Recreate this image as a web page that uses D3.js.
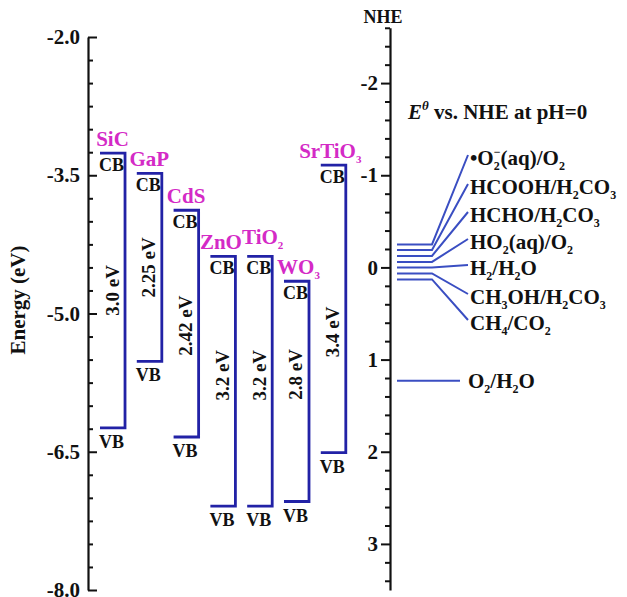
<!DOCTYPE html>
<html><head><meta charset="utf-8">
<script src="https://cdn.jsdelivr.net/npm/d3@7"></script>
<style>
body{margin:0;background:#fff}
text{font-family:"Liberation Serif","Times New Roman",serif;font-weight:bold}
</style>
</head><body>
<svg id="chart" width="627" height="597"></svg>
<script>
// ---------- data ----------
const materials   = ["SiC","GaP","CdS","ZnO","TiO_2","WO_3","SrTiO_3"];
const cbEnergy    = [-3.26,-3.48,-3.88,-4.38,-4.38,-4.65,-3.39];
const vbEnergy    = [-6.24,-5.52,-6.34,-7.09,-7.09,-7.04,-6.51];
const gapLabels   = ["3.0 eV","2.25 eV","2.42 eV","3.2 eV","3.2 eV","2.8 eV","3.4 eV"];
const energyTicks = [-2.0,-3.5,-5.0,-6.5,-8.0];
const nheTicks    = [-2,-1,0,1,2,3];
const redoxCouples = ["•O_2|^−(aq)/O_2","HCOOH/H_2CO_3","HCHO/H_2CO_3","HO_2(aq)/O_2","H_2/H_2O","CH_3OH/H_2CO_3","CH_4/CO_2"];
const redoxNHE     = [-0.25,-0.19,-0.125,-0.06,0,0.065,0.13];
const waterCouple  = ["O_2/H_2O"];
const waterNHE     = [1.23];

// ---------- layout / style ----------
const bandBlue = "#2222a6", redoxBlue = "#3a4ec2", magenta = "#d42ac6";
const gapShift = [0,0,2,-6,-6,-17,23];             // px nudges of the gap labels
const nameShift = [[0,0],[0,0],[0,0],[-2,0],[3,-5],[2,0],[-3,0]]; // px nudges of names
const redoxLabelY = [158,187,215,242,268,297,323];  // label centre lines (px)

const svg = d3.select("#chart");
const yE = d3.scaleLinear().domain([-2,-8]).range([37,590]);
const nheToY = v => yE(-v-4.5);
const yN = d3.scaleLinear().domain([-2.6,3.5]).range([nheToY(-2.6), nheToY(3.5)]);
const x = d3.scaleBand().domain(materials).range([100,345.8]).paddingInner(0.32).paddingOuter(0);
const bw = x.bandwidth();

function rich(t, str, fs, sfs, subDy, supDy){
  const re = /(_.|\^.|\||[^_^|]+)/g; let m, cur = 0, back = false;
  while((m = re.exec(str))){
    const tok = m[1];
    if(tok === "|"){ back = true; continue; }
    let txt = tok, target = 0, size = fs;
    if(tok[0] === "_"){ txt = tok.slice(1); target = subDy; size = sfs; }
    else if(tok[0] === "^"){ txt = tok.slice(1); target = supDy; size = sfs; }
    const ts = t.append("tspan").text(txt).attr("font-size", size).attr("dy", target - cur);
    if(back){ ts.attr("dx", -sfs*0.5); back = false; }
    cur = target;
  }
}

// ---------- left axis ----------
const axL = 88;
svg.append("g").attr("transform",`translate(${axL},0)`)
  .call(d3.axisLeft(yE).tickValues(d3.range(0,25).map(i=>-2-i*0.25).filter(v=>!energyTicks.includes(v)))
        .tickSize(-5).tickFormat(""))
  .call(g=>g.select(".domain").remove())
  .call(g=>g.selectAll("line").attr("stroke","#111").attr("stroke-width",2));
svg.append("g").attr("transform",`translate(${axL},0)`)
  .call(d3.axisLeft(yE).tickValues(energyTicks).tickSizeInner(-9).tickSizeOuter(0).tickPadding(8)
        .tickFormat(d=>d.toFixed(1)))
  .call(g=>g.select(".domain").attr("stroke","#111").attr("stroke-width",2.2))
  .call(g=>g.selectAll("line").attr("stroke","#111").attr("stroke-width",2))
  .call(g=>g.selectAll("text").attr("font-size",21).attr("fill","#111")
        .attr("font-family","Liberation Serif, serif").attr("font-weight","bold"));
svg.append("text").attr("transform","translate(25,300) rotate(-90)")
  .attr("text-anchor","middle").attr("font-size",21).attr("fill","#111").text("Energy (eV)");

// ---------- right (NHE) axis ----------
const axR = 390;
svg.append("g").attr("transform",`translate(${axR},0)`)
  .call(d3.axisLeft(yN).tickValues(d3.range(0,31).map(i=>+(-2.6+i*0.2).toFixed(1)).filter(v=>!nheTicks.includes(v)))
        .tickSize(5).tickFormat(""))
  .call(g=>g.select(".domain").remove())
  .call(g=>g.selectAll("line").attr("stroke","#111").attr("stroke-width",2));
svg.append("g").attr("transform",`translate(${axR},0)`)
  .call(d3.axisLeft(yN).tickValues(nheTicks).tickSizeInner(9).tickSizeOuter(0).tickPadding(3)
        .tickFormat(d=>String(d)))
  .call(g=>g.select(".domain").attr("stroke","#111").attr("stroke-width",2.2))
  .call(g=>g.selectAll("line").attr("stroke","#111").attr("stroke-width",2))
  .call(g=>g.selectAll("text").attr("font-size",21).attr("fill","#111")
        .attr("font-family","Liberation Serif, serif").attr("font-weight","bold"));
svg.append("text").attr("x",383).attr("y",23).attr("text-anchor","middle")
  .attr("font-size",18).attr("fill","#111").text("NHE");

// ---------- bands ----------
const bands = svg.append("g");
materials.forEach((m,i)=>{
  const x0 = x(m), x1 = x0 + bw, cx = x0 + bw/2;
  const yc = yE(cbEnergy[i]), yv = yE(vbEnergy[i]);
  bands.append("path").attr("d",`M${x0},${yc}H${x1}V${yv}H${x0}`)
    .attr("fill","none").attr("stroke",bandBlue).attr("stroke-width",2.8);
  const nm = bands.append("text").attr("x",cx+nameShift[i][0]).attr("y",yc-7+nameShift[i][1])
    .attr("text-anchor","middle").attr("fill",magenta);
  rich(nm, m, 21, 11, 5, -8);
  bands.append("text").attr("x",cx-1).attr("y",yc+18).attr("text-anchor","middle")
    .attr("font-size",18).attr("fill","#111").text("CB");
  bands.append("text").attr("x",cx-1).attr("y",yv+20).attr("text-anchor","middle")
    .attr("font-size",18).attr("fill","#111").text("VB");
  bands.append("text").attr("transform",`translate(${cx+6},${(yc+yv)/2+gapShift[i]}) rotate(-90)`)
    .attr("text-anchor","middle").attr("font-size",19).attr("fill","#111").text(gapLabels[i]);
});

// ---------- redox potentials ----------
const rg = svg.append("g");
svg.append("text").attr("x",408).attr("y",119).attr("font-size",21).attr("fill","#111")
  .call(t=>{
    t.append("tspan").attr("font-style","italic").text("E");
    t.append("tspan").attr("font-style","italic").attr("font-size",13).attr("dy",-9).text("θ");
    t.append("tspan").attr("dy",9).text(" vs. NHE at pH=0");
  });
redoxCouples.forEach((c,i)=>{
  const y0 = yN(redoxNHE[i]);
  const ly = redoxLabelY[i];
  rg.append("path").attr("d",`M397,${y0}H432L468,${ly-3}`)
    .attr("fill","none").attr("stroke",redoxBlue).attr("stroke-width",2);
  const t = rg.append("text").attr("x",470).attr("y",ly+7).attr("font-size",21).attr("fill","#111");
  rich(t, c, 21, 12, 5, -9);
});
waterCouple.forEach((c,i)=>{
  const y0 = yN(waterNHE[i]);
  rg.append("line").attr("x1",397).attr("x2",460).attr("y1",y0).attr("y2",y0)
    .attr("stroke",redoxBlue).attr("stroke-width",2);
  const t = rg.append("text").attr("x",468).attr("y",y0+7).attr("font-size",21).attr("fill","#111");
  rich(t, c, 21, 12, 5, -9);
});
</script>
</body></html>
